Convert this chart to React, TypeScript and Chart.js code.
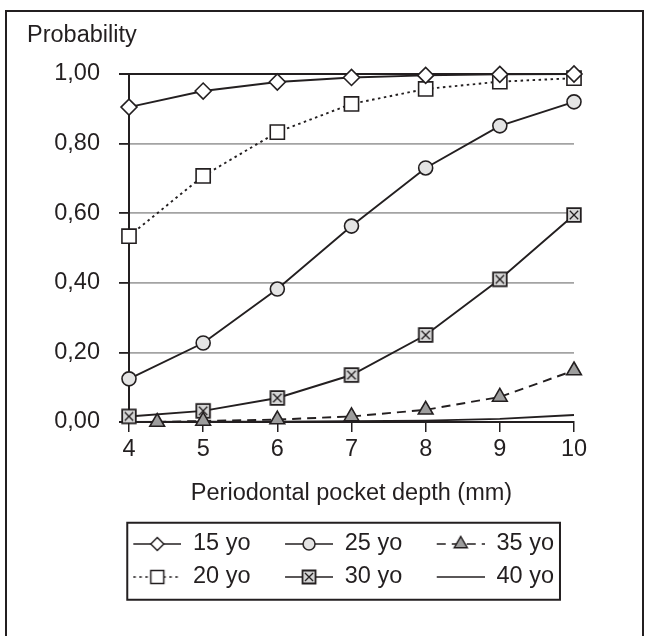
import React, { useEffect, useRef } from 'react';
import Chart from 'chart.js/auto';

// ---------- data ----------
const depths = [4, 5, 6, 7, 8, 9, 10];
const depths35 = [4.38, 5, 6, 7, 8, 9, 10];
const seriesLabels = ['15 yo', '25 yo', '35 yo', '20 yo', '30 yo', '40 yo'];
const p15 = [0.905, 0.951, 0.977, 0.99, 0.996, 0.999, 1.0];
const p25 = [0.124, 0.227, 0.382, 0.563, 0.73, 0.851, 0.92];
const p35 = [0.0, 0.003, 0.007, 0.016, 0.035, 0.072, 0.148];
const p20 = [0.534, 0.707, 0.833, 0.914, 0.957, 0.978, 0.988];
const p30 = [0.016, 0.032, 0.069, 0.135, 0.25, 0.41, 0.595];
const p40 = [0.0, 0.001, 0.001, 0.002, 0.004, 0.009, 0.02];
const xTickLabels = ['4', '5', '6', '7', '8', '9', '10'];
const yTickLabels = ['0,00', '0,20', '0,40', '0,60', '0,80', '1,00'];
const yTitle = 'Probability';
const xTitle = 'Periodontal pocket depth (mm)';

// ---------- styles ----------
const INK = '#231f20';
const GRID = '#a3a3a3';
const FONT = "'Liberation Sans', Arial, Helvetica, sans-serif";
const FS = 23.5;
const LEGEND_W = 73;
const LEGEND_BLANK = 25;

type Kind = 'diamond' | 'square' | 'circle' | 'xsquare' | 'triangle' | 'none';

function drawMarker(ctx: CanvasRenderingContext2D, kind: Kind, x: number, y: number, s: number) {
  ctx.save();
  ctx.setLineDash([]);
  ctx.lineWidth = 1.5;
  ctx.strokeStyle = INK;
  ctx.beginPath();
  if (kind === 'diamond') {
    ctx.moveTo(x - s, y); ctx.lineTo(x, y - s); ctx.lineTo(x + s, y); ctx.lineTo(x, y + s); ctx.closePath();
    ctx.fillStyle = '#ffffff'; ctx.fill(); ctx.stroke();
  } else if (kind === 'square') {
    ctx.rect(x - s, y - s, 2 * s, 2 * s);
    ctx.fillStyle = '#ffffff'; ctx.fill(); ctx.stroke();
  } else if (kind === 'circle') {
    ctx.arc(x, y, s, 0, Math.PI * 2);
    ctx.fillStyle = '#e4e4e4'; ctx.fill(); ctx.stroke();
  } else if (kind === 'xsquare') {
    ctx.rect(x - s, y - s, 2 * s, 2 * s);
    ctx.fillStyle = '#d6d6d6'; ctx.fill(); ctx.lineWidth = 1.8; ctx.stroke();
    ctx.beginPath();
    const k = s * 0.62;
    ctx.moveTo(x - k, y - k); ctx.lineTo(x + k, y + k);
    ctx.moveTo(x + k, y - k); ctx.lineTo(x - k, y + k);
    ctx.lineWidth = 1.3; ctx.stroke();
  } else if (kind === 'triangle') {
    ctx.moveTo(x, y - s); ctx.lineTo(x + s * 0.866, y + s * 0.5); ctx.lineTo(x - s * 0.866, y + s * 0.5); ctx.closePath();
    ctx.fillStyle = '#9d9d9d'; ctx.fill(); ctx.stroke();
  }
  ctx.restore();
}

function markerCanvas(kind: Kind, s: number): HTMLCanvasElement {
  const c = document.createElement('canvas');
  const size = Math.ceil(2 * s + 4);
  c.width = size; c.height = size;
  const ctx = c.getContext('2d')!;
  drawMarker(ctx, kind, size / 2, size / 2, s);
  return c;
}

function legendCanvas(kind: Kind, dash: number[]): HTMLCanvasElement {
  const c = document.createElement('canvas');
  c.width = LEGEND_W; c.height = 24;
  const ctx = c.getContext('2d')!;
  ctx.strokeStyle = INK;
  ctx.lineWidth = 1.6;
  ctx.setLineDash(dash);
  ctx.beginPath();
  ctx.moveTo(LEGEND_BLANK, 12); ctx.lineTo(LEGEND_W, 12);
  ctx.stroke();
  const cx = LEGEND_BLANK + (LEGEND_W - LEGEND_BLANK) / 2;
  const legendSize: Record<string, number> = { diamond: 6.5, square: 6.5, circle: 6, xsquare: 6.5, triangle: 7.5 };
  if (kind !== 'none') drawMarker(ctx, kind, cx, 12, legendSize[kind]);
  return c;
}

const seriesDefs: { label: string; xs: number[]; ys: number[]; kind: Kind; dash: number[] }[] = [
  { label: seriesLabels[0], xs: depths, ys: p15, kind: 'diamond', dash: [] },
  { label: seriesLabels[1], xs: depths, ys: p25, kind: 'circle', dash: [] },
  { label: seriesLabels[2], xs: depths35, ys: p35, kind: 'triangle', dash: [9, 6] },
  { label: seriesLabels[3], xs: depths, ys: p20, kind: 'square', dash: [2.5, 3.5] },
  { label: seriesLabels[4], xs: depths, ys: p30, kind: 'xsquare', dash: [] },
  { label: seriesLabels[5], xs: depths, ys: p40, kind: 'none', dash: [] },
];

const framePlugin = {
  id: 'frame',
  afterDraw(chart: any) {
    const ctx = chart.ctx as CanvasRenderingContext2D;
    ctx.save();
    ctx.strokeStyle = INK;
    ctx.lineWidth = 2;
    ctx.strokeRect(6, 11, 637, 700);
    const lg = chart.legend;
    if (lg && lg.legendHitBoxes && lg.legendHitBoxes.length) {
      const hb = lg.legendHitBoxes;
      const left = hb[0].left + LEGEND_BLANK - 6;
      const right = Math.max(...hb.map((h: any) => h.left + h.width)) + 6;
      ctx.strokeRect(left, lg.top, right - left, lg.height + 1);
    }
    ctx.restore();
  },
};

export default function App() {
  const ref = useRef<HTMLCanvasElement>(null);
  useEffect(() => {
    if (!ref.current) return;
    const pointStyleFor = (k: Kind): any => {
      if (k === 'diamond') return 'rectRot';
      if (k === 'square') return 'rect';
      if (k === 'circle') return 'circle';
      if (k === 'triangle') return 'triangle';
      if (k === 'xsquare') return markerCanvas('xsquare', 6.8);
      return 'circle';
    };
    const radiusFor = (k: Kind) =>
      k === 'diamond' ? 8 : k === 'square' ? 10 : k === 'circle' ? 7 : k === 'triangle' ? 8.5 : k === 'xsquare' ? 7 : 0;
    const fillFor = (k: Kind) =>
      k === 'circle' ? '#e4e4e4' : k === 'triangle' ? '#9d9d9d' : '#ffffff';

    const legendImgs = seriesDefs.map((s) => legendCanvas(s.kind, s.dash));

    const chart = new Chart(ref.current, {
      type: 'line',
      data: {
        datasets: seriesDefs.map((s) => ({
          label: s.label,
          data: s.xs.map((x, i) => ({ x, y: s.ys[i] })),
          borderColor: INK,
          borderWidth: 1.9,
          borderDash: s.dash,
          pointStyle: pointStyleFor(s.kind),
          pointRadius: radiusFor(s.kind),
          pointBorderWidth: 1.6,
          pointBorderColor: INK,
          pointBackgroundColor: fillFor(s.kind),
          tension: 0,
          fill: false,
          clip: false as any,
        })),
      },
      plugins: [framePlugin],
      options: {
        animation: false,
        responsive: false,
        devicePixelRatio: 1,
        layout: { padding: { left: 27, right: 14.75, top: 10, bottom: 37.25 } },
        font: { family: FONT },
        scales: {
          x: {
            type: 'linear',
            min: 4,
            max: 10,
            afterFit: (scale: any) => {
              scale.height = 100.75;
              scale.paddingRight = 76;
            },
            ticks: {
              stepSize: 1,
              padding: 3,
              color: INK,
              font: { family: FONT, size: FS },
              callback: (_v: any, i: number) => xTickLabels[i],
            },
            grid: {
              drawOnChartArea: false,
              drawTicks: true,
              tickLength: 10,
              tickColor: INK,
              lineWidth: 1.5,
              color: INK,
            },
            border: { color: INK, width: 2 },
            title: {
              display: true,
              text: xTitle,
              color: INK,
              font: { family: FONT, size: FS, weight: 'normal' },
              padding: { top: 0, bottom: 14.65 },
            },
          },
          y: {
            type: 'linear',
            min: 0,
            max: 1,
            afterFit: (scale: any) => {
              scale.width = 102;
            },
            ticks: {
              stepSize: 0.2,
              padding: 19,
              color: INK,
              font: { family: FONT, size: FS },
              callback: (_v: any, i: number) => yTickLabels[i],
            },
            grid: {
              drawTicks: true,
              tickLength: 10,
              tickColor: INK,
              lineWidth: (c: any) => (c.tick && (c.tick.value === 1 || c.tick.value === 0) ? 2 : 1.8),
              color: (c: any) => (c.tick && (c.tick.value === 1 || c.tick.value === 0) ? INK : GRID),
            },
            border: { color: INK, width: 2 },
          },
        },
        plugins: {
          tooltip: { enabled: false },
          title: {
            display: true,
            text: yTitle,
            align: 'start',
            color: INK,
            font: { family: FONT, size: FS, weight: 'normal' },
            padding: { top: 11.9, bottom: 23.9 },
          },
          legend: {
            display: true,
            position: 'bottom',
            fullSize: true,
            labels: {
              usePointStyle: true,
              pointStyleWidth: LEGEND_W,
              padding: 9.5,
              color: INK,
              font: { family: FONT, size: FS },
              generateLabels: () =>
                seriesDefs.map((s, i) => ({
                  text: s.label,
                  pointStyle: legendImgs[i] as any,
                  fillStyle: 'rgba(0,0,0,0)',
                  strokeStyle: 'rgba(0,0,0,0)',
                  lineWidth: 0,
                  hidden: false,
                  datasetIndex: i,
                  fontColor: INK,
                })),
            },
          },
        },
      } as any,
    });
    return () => chart.destroy();
  }, []);

  return (
    <div style={{ position: 'absolute', left: 0, top: 0, width: 650, height: 636, background: '#ffffff' }}>
      <canvas ref={ref} width={650} height={636} style={{ display: 'block', width: 650, height: 636 }} />
    </div>
  );
}
